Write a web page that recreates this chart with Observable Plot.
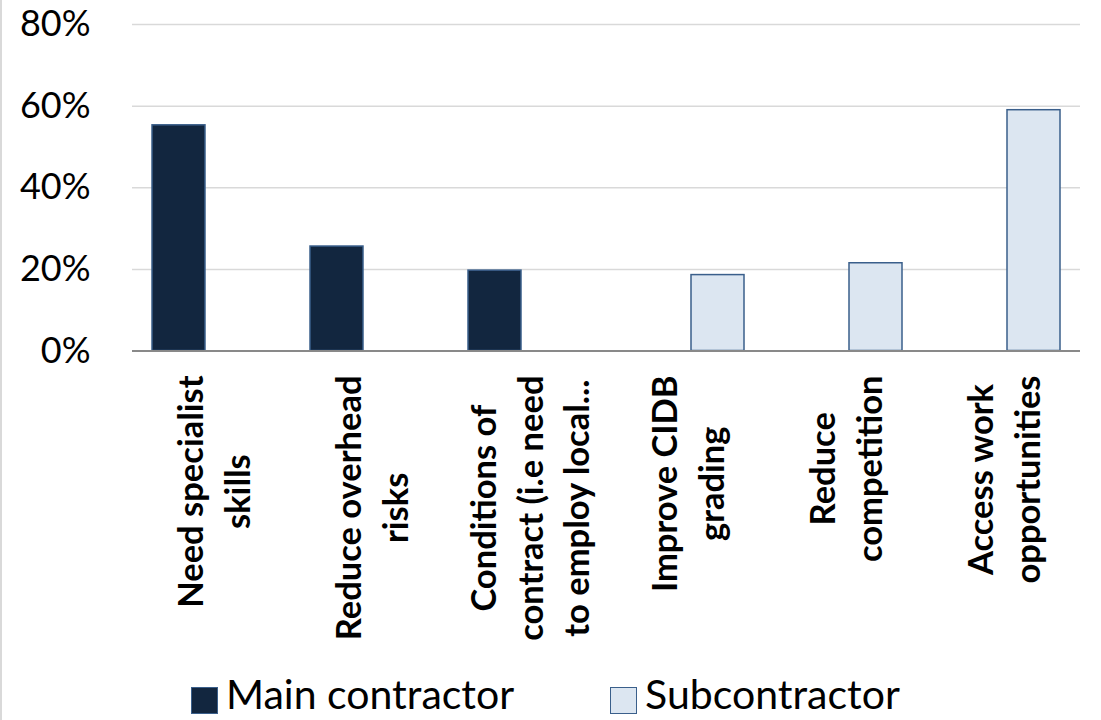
<!DOCTYPE html>
<html>
<head>
<meta charset="utf-8">
<script src="https://cdn.jsdelivr.net/npm/d3@7"></script>
<script src="https://cdn.jsdelivr.net/npm/@observablehq/plot@0.6"></script>
<style>
  html, body { margin: 0; padding: 0; background: #fff; }
  body { width: 1101px; height: 720px; overflow: hidden; position: relative; font-family: Lato, sans-serif; }
  #frame { position: absolute; left: 0; top: 0; width: 1.5px; height: 720px; background: #d9d9d9; }
  #legend { position: absolute; left: 0; top: 672px; height: 44px; line-height: 44px; display: flex; align-items: flex-start; padding-left: 191px; font-size: 41px; color: #000; }
  .item { display: flex; align-items: flex-start; }
  .sw { width: 27px; height: 27px; box-sizing: border-box; border: 1.5px solid #3a5f8b; margin-right: 8px; margin-top: 15px; }
  .gap { width: 96px; }
</style>
</head>
<body>
<div id="frame"></div>
<div id="chart"></div>
<div id="legend"></div>
<script>
const categories = [
  "Need specialist\nskills",
  "Reduce overhead\nrisks",
  "Conditions of\ncontract (i.e need\nto employ local...",
  "Improve CIDB\ngrading",
  "Reduce\ncompetition",
  "Access work\nopportunities"
];
const series = ["Main contractor", "Subcontractor"];
const mainValues = [0.553, 0.256, 0.197, null, null, null];
const subValues = [null, null, null, 0.186, 0.215, 0.590];
const yTicks = [0, 0.2, 0.4, 0.6, 0.8];
const colors = ["#12263f", "#dce6f1"];

const data = [];
categories.forEach((c, i) => {
  if (mainValues[i] != null) data.push({category: c, series: series[0], value: mainValues[i]});
  if (subValues[i] != null) data.push({category: c, series: series[1], value: subValues[i]});
});

const fmt = d3.format(".0%");

const chart = Plot.plot({
  width: 1101,
  height: 665,
  marginTop: 24,
  marginBottom: 314.5,
  marginLeft: 130,
  marginRight: 19.3,
  style: {fontFamily: "Lato, sans-serif", fontSize: "36px", color: "#000", background: "transparent"},
  fx: {domain: categories, padding: 0, axis: null},
  x: {domain: series, paddingInner: 0.1818, paddingOuter: 0.2924, axis: null},
  y: {domain: [0, 0.8], axis: null},
  color: {domain: series, range: colors},
  marks: [
    Plot.gridY(yTicks, {stroke: "#d9d9d9", strokeOpacity: 1, strokeWidth: 1.5}),
    Plot.axisY(yTicks, {tickSize: 0, tickPadding: 42, tickFormat: fmt, label: null, fontSize: 36, fill: "#000"}),
    Plot.barY(data, {fx: "category", x: "series", y: "value", fill: "series", stroke: "#3a5f8b", strokeWidth: 1.5}),
    Plot.ruleY([0], {stroke: "#898989", strokeWidth: 2}),
    Plot.text(categories, {
      fx: d => d, text: d => d, frameAnchor: "bottom", dy: 24.5,
      rotate: -90, textAnchor: "end", lineAnchor: "middle", lineHeight: 1.36,
      fontSize: 34.5, fontWeight: "bold", fill: "#000", className: "xlabels"
    })
  ]
});
document.getElementById("chart").appendChild(chart);

// center the lines of each rotated label relative to its longest line
chart.querySelectorAll("g.xlabels text, .xlabels text").forEach(t => {
  const spans = t.querySelectorAll("tspan");
  let max = 0;
  if (spans.length) spans.forEach(s => { max = Math.max(max, s.getComputedTextLength()); });
  else max = t.getComputedTextLength();
  t.setAttribute("text-anchor", "middle");
  t.style.textAnchor = "middle";
  const tr = t.getAttribute("transform") || "";
  t.setAttribute("transform", tr + ` translate(${-max / 2},0)`);
});

// legend
const legend = document.getElementById("legend");
series.forEach((s, i) => {
  if (i > 0) { const g = document.createElement("div"); g.className = "gap"; legend.appendChild(g); }
  const item = document.createElement("div");
  item.className = "item";
  const sw = document.createElement("div");
  sw.className = "sw";
  sw.style.background = colors[i];
  const lab = document.createElement("span");
  lab.textContent = s;
  item.appendChild(sw);
  item.appendChild(lab);
  legend.appendChild(item);
});
</script>
</body>
</html>
